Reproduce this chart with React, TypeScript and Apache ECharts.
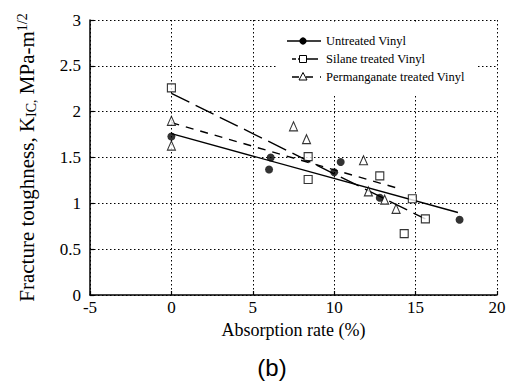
import React, { useEffect, useRef } from "react";
import * as echarts from "echarts";

// Untreated Vinyl (filled circles)
const untreatedX = [0, 6.1, 6.0, 10.0, 10.4, 12.8, 17.7];
const untreatedY = [1.73, 1.5, 1.37, 1.34, 1.45, 1.06, 0.82];
// Silane treated Vinyl (open squares)
const silaneX = [0, 8.4, 8.4, 12.8, 14.8, 15.6, 14.3];
const silaneY = [2.26, 1.51, 1.26, 1.3, 1.05, 0.83, 0.67];
// Permanganate treated Vinyl (open triangles)
const permX = [0, 0, 7.5, 8.3, 11.8, 12.1, 13.1, 13.8];
const permY = [1.9, 1.63, 1.84, 1.7, 1.47, 1.13, 1.04, 0.94];

// Fitted trend lines (end points)
const untreatedFitX = [0, 17.6];
const untreatedFitY = [1.76, 0.9];
const silaneFitX = [0, 15.6];
const silaneFitY = [2.2, 0.83];
const permFitX = [0, 13.8];
const permFitY = [1.88, 1.17];

const seriesNames = ["Untreated Vinyl", "Silane treated Vinyl", "Permanganate treated Vinyl"];

const xMin = -5, xMax = 20, xStep = 5;
const yMin = 0, yMax = 3, yStep = 0.5;

const SERIF = "Liberation Serif";

const zip = (xs: number[], ys: number[]) => xs.map((x, i) => [x, ys[i]]);

export default function App() {
  const ref = useRef<HTMLDivElement>(null);
  useEffect(() => {
    if (!ref.current) return;
    const chart = echarts.init(ref.current, null, { renderer: "svg" });
    const legendRows = [41, 59, 77];
    const lx1 = 287, lx2 = 321, mx = 303;
    const graphic: any[] = [
      { type: "rect", z: 5, shape: { x: 276, y: 23, width: 201, height: 72 }, style: { fill: "#fff" } },
      // row 1
      { type: "line", z: 20, shape: { x1: lx1, y1: legendRows[0], x2: lx2, y2: legendRows[0] }, style: { stroke: "#000", lineWidth: 1.3 } },
      { type: "circle", z: 21, shape: { cx: mx, cy: legendRows[0], r: 3.6 }, style: { fill: "#000" } },
      // row 2
      { type: "line", z: 20, shape: { x1: lx1 + 5, y1: legendRows[1], x2: lx2, y2: legendRows[1] }, style: { stroke: "#000", lineWidth: 1.3, lineDash: [4, 2, 20, 4] } },
      { type: "rect", z: 21, shape: { x: mx - 3.5, y: legendRows[1] - 3.5, width: 7, height: 7 }, style: { fill: "#fff", stroke: "#000", lineWidth: 1 } },
      // row 3
      { type: "line", z: 20, shape: { x1: lx1 + 5, y1: legendRows[2], x2: lx2, y2: legendRows[2] }, style: { stroke: "#000", lineWidth: 1.3, lineDash: [7, 7] } },
      { type: "polygon", z: 21, shape: { points: [[mx, legendRows[2] - 4.5], [mx - 4, legendRows[2] + 3], [mx + 4, legendRows[2] + 3]] }, style: { fill: "#fff", stroke: "#000", lineWidth: 1 } },
    ];
    seriesNames.forEach((n, i) => {
      graphic.push({
        type: "text", z: 21, x: 326, y: legendRows[i],
        style: { text: n, fontFamily: SERIF, fontSize: 12.5, fill: "#000", verticalAlign: "middle", align: "left" },
      });
    });
    graphic.push({
      type: "text", z: 21, x: 272, y: 367,
      style: { text: "(b)", fontFamily: "Liberation Sans", fontSize: 24, fill: "#000", verticalAlign: "middle", align: "center" },
    });

    const lineBase = { type: "line", symbol: "none", z: 10, silent: true };
    chart.setOption({
      animation: false,
      backgroundColor: "#fff",
      grid: { left: 90, right: 16, top: 20, bottom: 87 },
      xAxis: {
        type: "value", min: xMin, max: xMax, interval: xStep,
        name: "Absorption rate (%)", nameLocation: "middle", nameGap: 20,
        nameTextStyle: { fontFamily: SERIF, fontSize: 18, color: "#000" },
        axisLine: { onZero: false, lineStyle: { color: "#000", width: 1.5 } },
        axisTick: { inside: true, length: 4, lineStyle: { color: "#000", width: 1.2 } },
        axisLabel: { fontFamily: SERIF, fontSize: 17, color: "#000", margin: 4 },
        splitLine: { show: true, lineStyle: { color: "#000", width: 1, type: [1.5, 2.5] } },
      },
      yAxis: {
        type: "value", min: yMin, max: yMax, interval: yStep,
        name: "Fracture toughness, K{sub|IC,} MPa-m{sup|1/2}", nameLocation: "middle", nameGap: 52, nameRotate: 90,
        nameTextStyle: {
          fontFamily: SERIF, fontSize: 21, color: "#000",
          rich: {
            sub: { fontFamily: SERIF, fontSize: 14, color: "#000", padding: [9, 0, 0, 0] },
            sup: { fontFamily: SERIF, fontSize: 14, color: "#000", padding: [0, 0, 9, 0] },
          },
        },
        axisLine: { onZero: false, lineStyle: { color: "#000", width: 1.5 } },
        axisTick: { inside: true, length: 4, lineStyle: { color: "#000", width: 1.2 } },
        axisLabel: { fontFamily: SERIF, fontSize: 17, color: "#000", margin: 9 },
        splitLine: { show: true, lineStyle: { color: "#000", width: 1, type: [1.5, 2.5] } },
      },
      series: [
        { ...lineBase, name: seriesNames[0] + " fit", data: zip(untreatedFitX, untreatedFitY), lineStyle: { color: "#000", width: 1.4, type: "solid" } },
        { ...lineBase, name: seriesNames[1] + " fit", data: zip(silaneFitX, silaneFitY), lineStyle: { color: "#000", width: 1.4, type: [20, 7] } },
        { ...lineBase, name: seriesNames[2] + " fit", data: zip(permFitX, permFitY), lineStyle: { color: "#000", width: 1.4, type: [8, 7] } },
        {
          type: "scatter", name: seriesNames[0], z: 12, data: zip(untreatedX, untreatedY),
          symbol: "circle", symbolSize: 8, itemStyle: { color: "#000" },
        },
        {
          type: "scatter", name: seriesNames[1], z: 12, data: zip(silaneX, silaneY),
          symbol: "rect", symbolSize: 8, itemStyle: { color: "#fff", borderColor: "#000", borderWidth: 1.1 },
        },
        {
          type: "scatter", name: seriesNames[2], z: 12, data: zip(permX, permY),
          symbol: "triangle", symbolSize: [8, 9], itemStyle: { color: "#fff", borderColor: "#000", borderWidth: 1.1 },
        },
      ],
      graphic,
    });
    return () => chart.dispose();
  }, []);
  return <div ref={ref} style={{ width: 513, height: 382, position: "absolute", left: 0, top: 0 }} />;
}
